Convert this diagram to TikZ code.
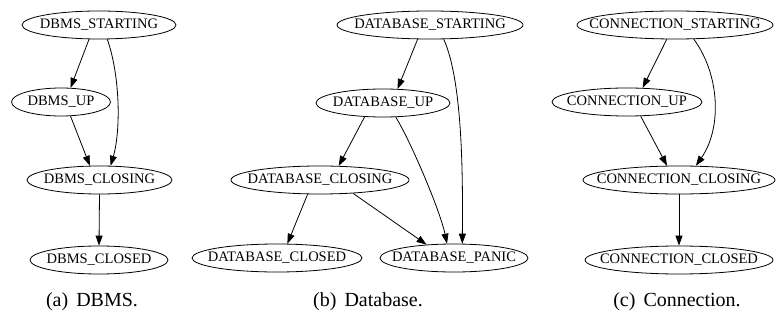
\documentclass[tikz,border=0pt]{standalone}
\usepackage{fontspec}
\setmainfont{Liberation Serif}
\usetikzlibrary{shapes.geometric,arrows.meta}
\begin{document}
\begin{tikzpicture}[x=1pt,y=-1pt,
  stnode/.style={ellipse,draw,line width=0.8pt,inner sep=0pt,minimum height=28pt,
    font=\fontsize{14.5}{16}\selectfont},
  tr/.style={line width=0.8pt,-{Triangle[length=10pt,width=7pt]}},
  captxt/.style={font=\fontsize{20}{22}\selectfont,inner sep=0pt}]
\useasboundingbox (0,0) rectangle (776,323);
% ---------- (a) ----------
\node[stnode,minimum width=154pt] (a1) at (99,25)  {\makebox[0pt]{DBMS\_STARTING}};
\node[stnode,minimum width=99pt]  (a2) at (61,102) {\makebox[0pt]{DBMS\_UP}};
\node[stnode,minimum width=145pt] (a3) at (99.5,180) {\makebox[0pt]{DBMS\_CLOSING}};
\node[stnode,minimum width=138pt] (a4) at (99,260) {\makebox[0pt]{DBMS\_CLOSED}};
\draw[tr] (a1.-125.7) -- (a2.56.8);
\draw[tr] (a1.-60) .. controls (120,75) and (121,130) .. (a3.52.8);
\draw[tr] (a2.-56.8) -- (a3.124.4);
\draw[tr] (a3.-90) -- (a4.90);
\node[captxt] (ca) at (92,302) {(a)\hspace{8pt}DBMS.};
% ---------- (b) ----------
\node[stnode,minimum width=186pt] (b1) at (430,25)  {\makebox[0pt]{DATABASE\_STARTING}};
\node[stnode,minimum width=134pt] (b2) at (383,103) {\makebox[0pt]{DATABASE\_UP}};
\node[stnode,minimum width=178pt] (b3) at (320,180) {\makebox[0pt]{DATABASE\_CLOSING}};
\node[stnode,minimum width=170pt] (b4) at (277,258) {\makebox[0pt]{DATABASE\_CLOSED}};
\node[stnode,minimum width=148pt] (b5) at (454,258) {\makebox[0pt]{DATABASE\_PANIC}};
\draw[tr] (b1.-131) -- (b2.44.4);
\draw[tr] (b1.-46.8) .. controls (462,80) and (463,170) .. (b5.60);
\draw[tr] (b2.-143) -- (b3.37.3);
\draw[tr] (b2.-48.9) .. controls (410,140) and (440,210) .. (b5.116.7);
\draw[tr] (b3.-131) -- (b4.54.3);
\draw[tr] (b3.-22.2) -- (b5.154.2);
\node[captxt] (cb) at (368,302) {(b)\hspace{8pt}Database.};
% ---------- (c) ----------
\node[stnode,minimum width=196pt] (c1) at (675,25)  {\makebox[0pt]{CONNECTION\_STARTING}};
\node[stnode,minimum width=150pt] (c2) at (627,102) {\makebox[0pt]{CONNECTION\_UP}};
\node[stnode,minimum width=192pt] (c3) at (679,180) {\makebox[0pt]{CONNECTION\_CLOSING}};
\node[stnode,minimum width=188pt] (c4) at (679,260) {\makebox[0pt]{CONNECTION\_CLOSED}};
\draw[tr] (c1.-120) -- (c2.42.4);
\draw[tr] (c1.-37.4) .. controls (720,75) and (722,128) .. (c3.40.8);
\draw[tr] (c2.-46.7) -- (c3.130.8);
\draw[tr] (c3.-90) -- (c4.90);
\node[captxt] (cc) at (677,302) {(c)\hspace{8pt}Connection.};
\end{tikzpicture}
\end{document}
